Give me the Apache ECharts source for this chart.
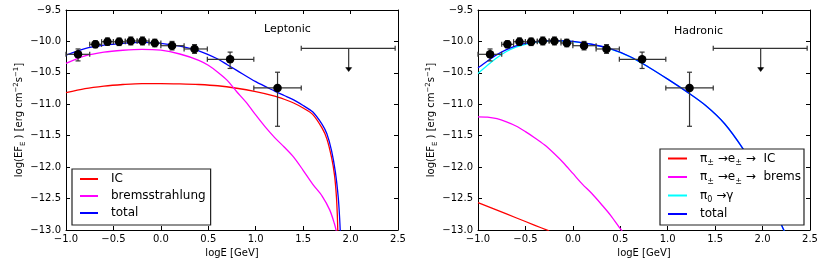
<!DOCTYPE html>
<html>
<head>
<meta charset="utf-8">
<script src="https://cdn.jsdelivr.net/npm/echarts@6/dist/echarts.min.js"></script>
<style>
html,body{margin:0;padding:0;background:#fff;}
#c{width:831px;height:275px;}
</style>
</head>
<body>
<div id="c"></div>
<script>
// ---------- data ----------
const xTicks = [-1.0, -0.5, 0.0, 0.5, 1.0, 1.5, 2.0, 2.5];
const yTicks = [-13.0, -12.5, -12.0, -11.5, -11.0, -10.5, -10.0, -9.5];

// measured points (same in both panels)
const ptX    = [-0.873, -0.69, -0.563, -0.44, -0.317, -0.194, -0.064, 0.118, 0.355, 0.73, 1.23];
const ptY    = [-10.205, -10.046, -10.004, -10.006, -9.993, -9.993, -10.025, -10.068, -10.12, -10.285, -10.74];
const ptXlo  = [-1.0, -0.75, -0.625, -0.5, -0.375, -0.25, -0.125, 0.0, 0.245, 0.49, 0.98];
const ptXhi  = [-0.75, -0.625, -0.5, -0.375, -0.25, -0.125, 0.0, 0.245, 0.49, 0.98, 1.48];
const ptYlo  = [-10.31, -10.10, -10.06, -10.065, -10.055, -10.055, -10.085, -10.135, -10.19, -10.43, -11.35];
const ptYhi  = [-10.12, -9.99, -9.945, -9.947, -9.93, -9.93, -9.965, -10.0, -10.05, -10.17, -10.49];

// upper limit
const ulX = [1.98], ulY = [-10.11], ulXlo = [1.48], ulXhi = [2.47], ulYto = [-10.48];

// Leptonic model curves
const lepICx  = [-1.0, -0.8, -0.6, -0.4, -0.2, 0.0, 0.2, 0.4, 0.6, 0.8, 1.0, 1.2, 1.3, 1.4, 1.5, 1.6, 1.7, 1.75, 1.8, 1.83, 1.85, 1.86, 1.866];
const lepICy  = [-10.815, -10.75, -10.71, -10.685, -10.67, -10.67, -10.675, -10.685, -10.705, -10.745, -10.80, -10.87, -10.92, -10.98, -11.06, -11.16, -11.38, -11.55, -11.85, -12.12, -12.45, -12.75, -13.05];
const lepBrx  = [-1.0, -0.8, -0.6, -0.4, -0.2, 0.0, 0.2, 0.4, 0.5, 0.6, 0.7, 0.8, 0.9, 1.0, 1.1, 1.2, 1.3, 1.4, 1.5, 1.6, 1.7, 1.78, 1.83, 1.85];
const lepBry  = [-10.35, -10.23, -10.17, -10.14, -10.125, -10.14, -10.20, -10.30, -10.38, -10.49, -10.62, -10.80, -10.97, -11.17, -11.36, -11.53, -11.68, -11.84, -12.05, -12.27, -12.46, -12.68, -12.90, -13.02];
const lepTotx = [-1.0, -0.8, -0.6, -0.4, -0.2, 0.0, 0.2, 0.4, 0.6, 0.7, 0.8, 1.0, 1.2, 1.3, 1.4, 1.5, 1.6, 1.7, 1.75, 1.8, 1.84, 1.87, 1.885, 1.892];
const lepToty = [-10.22, -10.115, -10.06, -10.03, -10.016, -10.03, -10.076, -10.15, -10.28, -10.37, -10.46, -10.64, -10.79, -10.86, -10.93, -11.02, -11.12, -11.32, -11.47, -11.74, -12.08, -12.48, -12.82, -13.05];

// Hadronic model curves
const hadICx  = [-1.0, -0.8, -0.6, -0.4, -0.25];
const hadICy  = [-12.565, -12.685, -12.805, -12.925, -13.015];
const hadBrx  = [-1.0, -0.9, -0.8, -0.7, -0.6, -0.5, -0.4, -0.3, -0.2, -0.1, 0.0, 0.1, 0.2, 0.3, 0.4, 0.5, 0.52];
const hadBry  = [-11.20, -11.205, -11.23, -11.28, -11.345, -11.435, -11.535, -11.645, -11.78, -11.93, -12.10, -12.27, -12.42, -12.59, -12.77, -12.98, -13.02];
const hadPi0x = [-1.0, -0.9, -0.8, -0.7, -0.6, -0.5, -0.4, -0.3, -0.2, -0.1, 0.0, 0.2, 0.4, 0.6, 0.8, 1.0, 1.2, 1.4, 1.6, 1.8, 2.0, 2.1, 2.2, 2.23];
const hadPi0y = [-10.51, -10.38, -10.26, -10.16, -10.09, -10.045, -10.015, -9.997, -9.99, -9.993, -10.003, -10.047, -10.121, -10.241, -10.41, -10.60, -10.80, -11.02, -11.31, -11.72, -12.20, -12.50, -12.92, -13.02];
const hadTotx = [-1.0, -0.9, -0.8, -0.7, -0.6, -0.5, -0.4, -0.3, -0.2, -0.1, 0.0, 0.2, 0.4, 0.6, 0.8, 1.0, 1.2, 1.4, 1.6, 1.8, 2.0, 2.1, 2.2, 2.23];
const hadToty = [-10.42, -10.31, -10.21, -10.13, -10.07, -10.03, -10.005, -9.99, -9.985, -9.99, -10.0, -10.045, -10.12, -10.24, -10.41, -10.60, -10.80, -11.02, -11.31, -11.72, -12.20, -12.50, -12.92, -13.02];

// ---------- chart ----------
const FONT = 'DejaVu Sans';
const zip = (a, b) => a.map((v, i) => [v, b[i]]);
const fmt = v => (Math.abs(v) < 1e-9 ? 0 : v).toFixed(1).replace('-', '\u2212');

const gridW = 332, gridH = 220, gridTop = 10;
const grids = [
  {left: 66, top: gridTop, width: gridW, height: gridH},
  {left: 478, top: gridTop, width: gridW, height: gridH}
];

const xAxes = [], yAxes = [];
grids.forEach((g, gi) => {
  const base = {
    gridIndex: gi, type: 'value', min: xTicks[0], max: xTicks[xTicks.length - 1], interval: 0.5,
    axisLine: {show: true, onZero: false, lineStyle: {color: '#000', width: 1}},
    axisTick: {show: true, inside: true, length: 4, lineStyle: {color: '#000'}},
    splitLine: {show: false}
  };
  xAxes.push(Object.assign({}, base, {
    position: 'bottom',
    axisLabel: {show: true, formatter: fmt, color: '#000', fontFamily: FONT, fontSize: 10, margin: 4},
    name: 'logE [GeV]', nameLocation: 'middle', nameGap: 17,
    nameTextStyle: {color: '#000', fontFamily: FONT, fontSize: 10}
  }));
  xAxes.push(Object.assign({}, base, {position: 'top', axisLabel: {show: false}}));
  const ybase = {
    gridIndex: gi, type: 'value', min: yTicks[0], max: yTicks[yTicks.length - 1], interval: 0.5,
    axisLine: {show: true, onZero: false, lineStyle: {color: '#000', width: 1}},
    axisTick: {show: true, inside: true, length: 4, lineStyle: {color: '#000'}},
    splitLine: {show: false}
  };
  yAxes.push(Object.assign({}, ybase, {
    position: 'left',
    axisLabel: {show: true, formatter: fmt, color: '#000', fontFamily: FONT, fontSize: 10, margin: 5},
    name: '{a|log(EF}{s|E}{a| ) [erg cm}{p|\u22122}{a|s}{p|\u22121}{a|]}',
    nameLocation: 'middle', nameRotate: 90, nameGap: 38,
    nameTextStyle: {
      color: '#000', fontFamily: FONT, fontSize: 10,
      rich: {
        a: {fontFamily: FONT, fontSize: 10, lineHeight: 14, color: '#000'},
        s: {fontFamily: FONT, fontSize: 7, lineHeight: 14, verticalAlign: 'bottom', color: '#000'},
        p: {fontFamily: FONT, fontSize: 7, lineHeight: 14, verticalAlign: 'top', color: '#000'}
      }
    }
  }));
  yAxes.push(Object.assign({}, ybase, {position: 'right', axisLabel: {show: false}}));
});

function lineSeries(name, gi, xs, ys, color, z) {
  return {
    name, type: 'line', xAxisIndex: gi * 2, yAxisIndex: gi * 2,
    data: zip(xs, ys), showSymbol: false, symbol: 'none', smooth: 0.3,
    lineStyle: {color, width: 1.3}, itemStyle: {color}, color, z: z || 2,
    clip: true, animation: false
  };
}

const errData = ptX.map((x, i) => [x, ptY[i], ptXlo[i], ptXhi[i], ptYlo[i], ptYhi[i]]);
const ulData = ulX.map((x, i) => [x, ulY[i], ulXlo[i], ulXhi[i], ulYto[i]]);
const ERRC = '#333333';

function errSeries(gi) {
  return {
    type: 'custom', xAxisIndex: gi * 2, yAxisIndex: gi * 2, data: errData, z: 5, clip: false,
    renderItem: function (params, api) {
      const c = api.coord([api.value(0), api.value(1)]);
      const l = api.coord([api.value(2), api.value(1)]);
      const r = api.coord([api.value(3), api.value(1)]);
      const b = api.coord([api.value(0), api.value(4)]);
      const t = api.coord([api.value(0), api.value(5)]);
      const cap = 2.5;
      const st = {stroke: ERRC, lineWidth: 1.2};
      const ln = (x1, y1, x2, y2) => ({type: 'line', shape: {x1, y1, x2, y2}, style: st});
      return {type: 'group', children: [
        ln(l[0], c[1], r[0], c[1]),
        ln(c[0], t[1], c[0], b[1]),
        ln(l[0], c[1] - cap, l[0], c[1] + cap),
        ln(r[0], c[1] - cap, r[0], c[1] + cap),
        ln(c[0] - cap, t[1], c[0] + cap, t[1]),
        ln(c[0] - cap, b[1], c[0] + cap, b[1])
      ]};
    }
  };
}
function ulSeries(gi) {
  return {
    type: 'custom', xAxisIndex: gi * 2, yAxisIndex: gi * 2, data: ulData, z: 5, clip: false,
    renderItem: function (params, api) {
      const c = api.coord([api.value(0), api.value(1)]);
      const l = api.coord([api.value(2), api.value(1)]);
      const r = api.coord([api.value(3), api.value(1)]);
      const tip = api.coord([api.value(0), api.value(4)]);
      const cap = 2.5;
      const st = {stroke: ERRC, lineWidth: 1.2};
      const ln = (x1, y1, x2, y2) => ({type: 'line', shape: {x1, y1, x2, y2}, style: st});
      return {type: 'group', children: [
        ln(l[0], c[1], r[0], c[1]),
        ln(l[0], c[1] - cap, l[0], c[1] + cap),
        ln(r[0], c[1] - cap, r[0], c[1] + cap),
        ln(c[0], c[1], c[0], tip[1] - 3),
        {type: 'polygon', shape: {points: [[c[0] - 3, tip[1] - 4], [c[0] + 3, tip[1] - 4], [c[0], tip[1]]]},
         style: {fill: '#000', stroke: '#000', lineWidth: 0.5}}
      ]};
    }
  };
}
function ptSeries(gi) {
  return {
    type: 'scatter', xAxisIndex: gi * 2, yAxisIndex: gi * 2, data: zip(ptX, ptY),
    symbol: 'circle', symbolSize: 8.5, itemStyle: {color: '#000', opacity: 1}, z: 6, clip: false
  };
}

const legendNames = {
  'IC': 'IC',
  'bremsstrahlung': 'bremsstrahlung',
  'total': 'total',
  'h_IC': '{a|\u03c0}{s|\u00b1}{a| \u2192e}{s|\u00b1}{a| \u2192  IC}',
  'h_brems': '{a|\u03c0}{s|\u00b1}{a| \u2192e}{s|\u00b1}{a| \u2192  brems}',
  'h_pi0': '{a|\u03c0}{s|0}{a| \u2192\u03b3}',
  'h_total': '{a|total}'
};

const option = {
  animation: false,
  backgroundColor: '#fff',
  textStyle: {fontFamily: FONT},
  grid: grids,
  xAxis: xAxes,
  yAxis: yAxes,
  legend: [
    {
      data: ['IC', 'bremsstrahlung', 'total'], orient: 'vertical', left: 72, top: 169,
      icon: 'rect', itemWidth: 18, itemHeight: 2, itemGap: 3,
      padding: [3, 5, 5, 8], borderColor: '#222', borderWidth: 1.2, backgroundColor: '#fff',
      textStyle: {fontFamily: FONT, fontSize: 12, color: '#000', lineHeight: 14, padding: [0, 0, 0, 8]},
      selectedMode: false
    },
    {
      data: ['h_IC', 'h_brems', 'h_pi0', 'h_total'], orient: 'vertical', left: 660, top: 149,
      icon: 'rect', itemWidth: 19, itemHeight: 2, itemGap: 4,
      padding: [3.5, 3, 5, 8], borderColor: '#222', borderWidth: 1.2, backgroundColor: '#fff',
      formatter: n => legendNames[n],
      textStyle: {
        fontFamily: FONT, fontSize: 12, color: '#000', padding: [0, 0, 0, 8],
        rich: {
          a: {fontFamily: FONT, fontSize: 12, lineHeight: 17, color: '#000'},
          s: {fontFamily: FONT, fontSize: 8, lineHeight: 17, verticalAlign: 'bottom', color: '#000'}
        }
      },
      selectedMode: false
    }
  ],
  graphic: [
    {type: 'text', left: 264, top: 24, style: {text: 'Leptonic', font: '11px "DejaVu Sans"', fill: '#000'}},
    {type: 'text', left: 674, top: 26, style: {text: 'Hadronic', font: '11px "DejaVu Sans"', fill: '#000'}}
  ],
  series: [
    lineSeries('IC', 0, lepICx, lepICy, '#ff0000', 2),
    lineSeries('bremsstrahlung', 0, lepBrx, lepBry, '#ff00ff', 2),
    lineSeries('total', 0, lepTotx, lepToty, '#0000ff', 3),
    errSeries(0), ulSeries(0), ptSeries(0),
    lineSeries('h_IC', 1, hadICx, hadICy, '#ff0000', 2),
    lineSeries('h_brems', 1, hadBrx, hadBry, '#ff00ff', 2),
    lineSeries('h_pi0', 1, hadPi0x, hadPi0y, '#00ffff', 2),
    lineSeries('h_total', 1, hadTotx, hadToty, '#0000ff', 3),
    errSeries(1), ulSeries(1), ptSeries(1)
  ]
};

const chart = echarts.init(document.getElementById('c'), null, {renderer: 'canvas'});
chart.setOption(option);
</script>
</body>
</html>
